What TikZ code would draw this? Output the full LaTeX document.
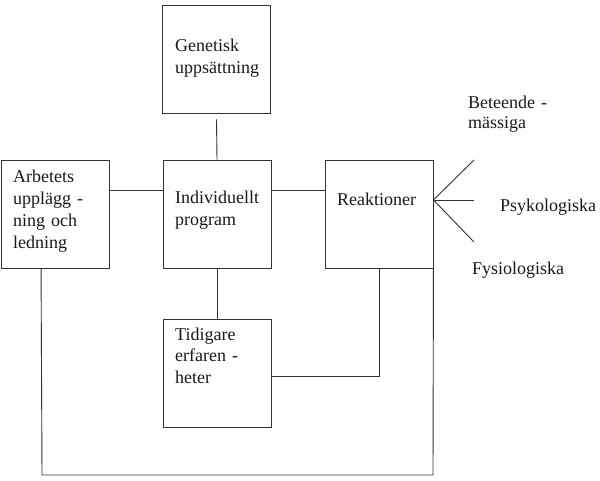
\documentclass[tikz,border=0pt]{standalone}
\usepackage{fontspec}
\setmainfont{Liberation Serif}
\begin{document}
\begin{tikzpicture}[x=1pt,y=-1pt,
  box/.style={draw=black!80,line width=0.9pt,minimum width=108pt,minimum height=108pt,inner sep=0pt},
  lbl/.style={anchor=base west,inner sep=0pt,text width=110pt,align=left,text=black!90,font=\fontsize{18}{21.7}\selectfont},
  conn/.style={draw=black!80,line width=0.9pt}]
\useasboundingbox (0,0) rectangle (600,481);
% boxes
\node[box] (g) at (216.5,59) {};
\node[box] (a) at (55.5,214) {};
\node[box] (ind) at (217,214) {};
\node[box] (r) at (379,214) {};
\node[box] (t) at (217,373) {};
% texts
\node[lbl] (gtx) at (175,52) {Genetisk\\uppsättning};
\node[lbl] (atx) at (13,183) {Arbetets\\upplägg -\\ning och\\ledning};
\node[lbl] (itx) at (175,204) {Individuellt\\program};
\node[lbl] (rtx) at (337,205.5) {Reaktioner};
\node[lbl] (ttx) at (175,340) {Tidigare\\erfaren -\\heter};
\node[lbl] (btx) at (468,109) {Beteende -\\[-2.4pt]mässiga};
\node[lbl] (ptx) at (500,211.7) {Psykologiska};
\node[lbl] (ftx) at (472,274.3) {Fysiologiska};
% connectors
\draw[conn] ([yshift=-6pt]g.south) -- (ind.north);
\draw[conn] ([yshift=-31pt]a.north east) -- ([yshift=-31pt]ind.north west);
\draw[conn] ([yshift=-31pt]ind.north east) -- ([yshift=-31pt]r.north west);
\draw[conn] (ind.south) -- (t.north);
\draw[conn] ([yshift=-3pt]t.east) -| (r.south);
\coordinate (bl) at (42,475);
\coordinate (br) at (433,475);
\draw[conn] ([xshift=40pt]a.south west) -- (bl) -- (br) -- (r.south east);
% fan
\coordinate (fan) at ([yshift=14pt]r.east);
\coordinate (f1) at (474,160);
\coordinate (f2) at (474,200);
\coordinate (f3) at (474,242);
\draw[conn] (f1) -- (fan) -- (f3);
\draw[conn] (fan) -- (f2);
\end{tikzpicture}
\end{document}
